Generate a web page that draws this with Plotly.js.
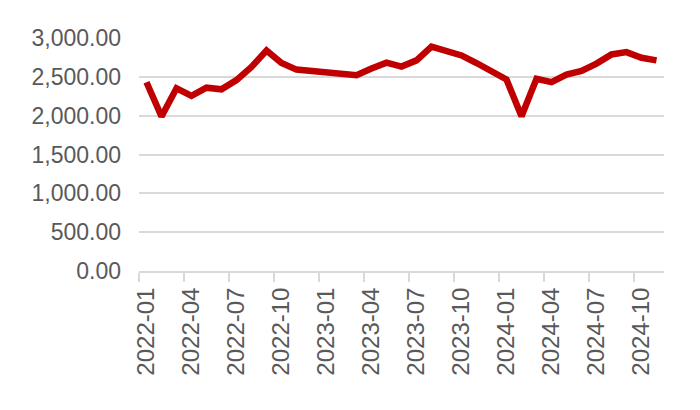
<!DOCTYPE html>
<html>
<head>
<meta charset="utf-8">
<script src="https://cdn.plot.ly/plotly-3.0.1.min.js"></script>
<style>html,body{margin:0;padding:0;background:#fff;}#chart{width:700px;height:410px;}</style>
</head>
<body>
<div id="chart"></div>
<script>
var months = ["2022-01","2022-02","2022-03","2022-04","2022-05","2022-06","2022-07","2022-08","2022-09","2022-10","2022-11","2022-12",
              "2023-01","2023-02","2023-03","2023-04","2023-05","2023-06","2023-07","2023-08","2023-09","2023-10","2023-11","2023-12",
              "2024-01","2024-02","2024-03","2024-04","2024-05","2024-06","2024-07","2024-08","2024-09","2024-10","2024-11"];
var values = [2430, 1990, 2352, 2254, 2360, 2339, 2458, 2627, 2839, 2678, 2593, 2576,
              2559, 2542, 2521, 2606, 2682, 2632, 2712, 2890, 2839, 2775, 2678, 2564,
              2466, 1992, 2475, 2432, 2530, 2576, 2670, 2788, 2818, 2746, 2712];

var trace = {
  x: months, y: values, type: 'scatter', mode: 'lines',
  line: {color: '#C00000', width: 6.5, shape: 'linear'},
  hoverinfo: 'skip'
};
var fontFam = 'Liberation Sans, Arial, sans-serif';
var layout = {
  width: 700, height: 410,
  margin: {l: 139, r: 36, t: 38, b: 139},
  paper_bgcolor: '#ffffff', plot_bgcolor: '#ffffff',
  showlegend: false,
  font: {family: fontFam, color: '#595959'},
  xaxis: {
    type: 'category', range: [-0.5, months.length - 0.5],
    tickmode: 'linear', tick0: 0, dtick: 3,
    tickson: 'boundaries',
    ticks: 'outside', ticklen: 9, tickwidth: 2, tickcolor: '#d9d9d9',
    tickangle: -90, tickfont: {size: 24, color: '#595959', family: fontFam},
    ticklabelstandoff: 5,
    showline: true, linecolor: '#d9d9d9', linewidth: 2,
    showgrid: false, zeroline: false, fixedrange: true
  },
  yaxis: {
    range: [0, 3000], tickmode: 'linear', tick0: 0, dtick: 500,
    tickformat: ',.2f',
    tickfont: {size: 23, color: '#595959', family: fontFam},
    ticklabelstandoff: 17,
    showgrid: true, gridcolor: '#d9d9d9', gridwidth: 2,
    zeroline: false, showline: false, ticks: '', fixedrange: true
  }
};
Plotly.newPlot('chart', [trace], layout, {displayModeBar: false, staticPlot: true});
</script>
</body>
</html>
